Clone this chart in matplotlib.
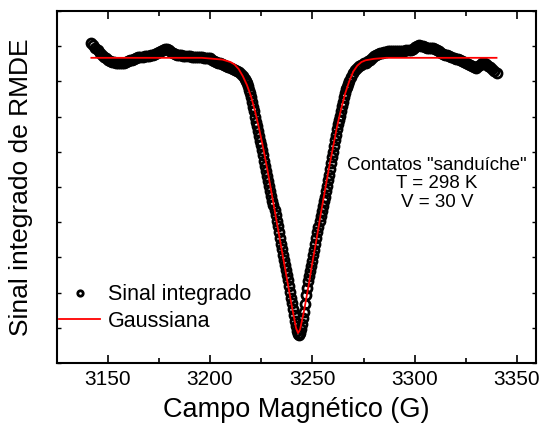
import matplotlib
matplotlib.use("Agg")
import matplotlib.pyplot as plt
from matplotlib.ticker import MultipleLocator, NullFormatter

plt.rcParams['font.family'] = ['Liberation Sans', 'DejaVu Sans']

# Integrated signal (open circles): left baseline, dip, right baseline
left_x = [3142, 3143, 3144, 3145, 3146, 3147, 3148, 3149, 3150, 3151,
          3152, 3153, 3154, 3155, 3156, 3157, 3158, 3159, 3160, 3161,
          3162, 3163, 3164, 3165, 3166, 3167, 3168, 3169, 3170, 3171,
          3172, 3173, 3174, 3175, 3176, 3177, 3178, 3179, 3180, 3181,
          3182, 3183, 3184, 3185, 3186, 3187, 3188, 3189, 3190, 3191,
          3192, 3193, 3194, 3195, 3196, 3197, 3198, 3199, 3200, 3201,
          3202, 3203, 3204, 3205, 3206, 3207, 3208, 3209, 3210, 3211,
          3212, 3213, 3214, 3215, 3216, 3217]
left_y = [0.908, 0.902, 0.896, 0.889, 0.882, 0.876, 0.870, 0.866, 0.862, 0.858,
          0.856, 0.854, 0.853, 0.852, 0.852, 0.852, 0.853, 0.855, 0.857, 0.860,
          0.862, 0.864, 0.866, 0.868, 0.869, 0.870, 0.871, 0.872, 0.873, 0.875,
          0.876, 0.878, 0.880, 0.883, 0.886, 0.890, 0.893, 0.893, 0.890, 0.884,
          0.880, 0.878, 0.876, 0.875, 0.874, 0.873, 0.872, 0.871, 0.871, 0.870,
          0.870, 0.869, 0.869, 0.868, 0.868, 0.867, 0.866, 0.866, 0.866, 0.862,
          0.858, 0.855, 0.853, 0.851, 0.849, 0.847, 0.844, 0.841, 0.838, 0.835,
          0.832, 0.829, 0.826, 0.822, 0.816, 0.808]

dip_x = [3217.5, 3218, 3218.5, 3219, 3219.5, 3220, 3220.5, 3221, 3221.5, 3222,
         3222.5, 3223, 3223.5, 3224, 3224.5, 3225, 3225.5, 3226, 3226.5, 3227,
         3227.5, 3228, 3228.5, 3229, 3229.5, 3230, 3230.5, 3231, 3231.5, 3232,
         3232.5, 3233, 3233.5, 3234, 3234.5, 3235, 3235.5, 3236, 3236.5, 3237,
         3237.5, 3238, 3238.5, 3239, 3239.5, 3240, 3240.5, 3241, 3241.5, 3242,
         3242.5, 3243, 3243.5, 3244, 3244.5, 3245, 3245.5, 3246, 3246.5, 3247,
         3247.5, 3248, 3248.5, 3249, 3249.5, 3250, 3250.5, 3251, 3251.5, 3252,
         3252.5, 3253, 3253.5, 3254, 3254.5, 3255, 3255.5, 3256, 3256.5, 3257,
         3257.5, 3258, 3258.5, 3259, 3259.5, 3260, 3260.5, 3261, 3261.5, 3262,
         3262.5, 3263, 3263.5, 3264, 3264.5, 3265, 3265.5, 3266, 3266.5, 3267,
         3267.5, 3268]
dip_y = [0.802, 0.795, 0.786, 0.776, 0.766, 0.755, 0.742, 0.728, 0.715, 0.700,
         0.686, 0.672, 0.659, 0.645, 0.631, 0.618, 0.604, 0.590, 0.575, 0.560,
         0.545, 0.530, 0.516, 0.502, 0.489, 0.475, 0.461, 0.448, 0.434, 0.420,
         0.404, 0.388, 0.371, 0.355, 0.339, 0.323, 0.308, 0.292, 0.278, 0.264,
         0.250, 0.235, 0.219, 0.203, 0.186, 0.170, 0.152, 0.135, 0.120, 0.105,
         0.092, 0.082, 0.080, 0.085, 0.096, 0.110, 0.127, 0.145, 0.168, 0.192,
         0.214, 0.232, 0.247, 0.261, 0.276, 0.290, 0.306, 0.322, 0.339, 0.355,
         0.371, 0.387, 0.402, 0.418, 0.432, 0.445, 0.459, 0.472, 0.488, 0.504,
         0.519, 0.535, 0.551, 0.567, 0.584, 0.600, 0.617, 0.633, 0.649, 0.665,
         0.678, 0.690, 0.703, 0.715, 0.729, 0.742, 0.755, 0.768, 0.777, 0.785,
         0.793, 0.800]

right_x = [3269, 3270, 3271, 3272, 3273, 3274, 3275, 3276, 3277, 3278,
           3279, 3280, 3281, 3282, 3283, 3284, 3285, 3286, 3287, 3288,
           3289, 3290, 3291, 3292, 3293, 3294, 3295, 3296, 3297, 3298,
           3299, 3300, 3301, 3302, 3303, 3304, 3305, 3306, 3307, 3308,
           3309, 3310, 3311, 3312, 3313, 3314, 3315, 3316, 3317, 3318,
           3319, 3320, 3321, 3322, 3323, 3324, 3325, 3326, 3327, 3328,
           3329, 3330, 3331, 3332, 3333, 3334, 3335, 3336, 3337, 3338,
           3339, 3340]
right_y = [0.813, 0.825, 0.832, 0.838, 0.843, 0.848, 0.851, 0.853, 0.857, 0.862,
           0.867, 0.872, 0.875, 0.878, 0.880, 0.882, 0.883, 0.884, 0.885, 0.885,
           0.885, 0.885, 0.885, 0.885, 0.885, 0.886, 0.887, 0.888, 0.889, 0.890,
           0.893, 0.897, 0.900, 0.902, 0.901, 0.900, 0.897, 0.895, 0.895, 0.895,
           0.894, 0.893, 0.889, 0.885, 0.881, 0.878, 0.876, 0.874, 0.872, 0.870,
           0.867, 0.865, 0.863, 0.861, 0.858, 0.856, 0.853, 0.850, 0.846, 0.843,
           0.840, 0.838, 0.843, 0.848, 0.851, 0.852, 0.849, 0.845, 0.840, 0.835,
           0.829, 0.824]

# Gaussian fit (red line)
fit_x = [3142, 3196, 3200, 3206, 3210, 3212, 3214, 3216, 3218, 3220,
         3222, 3224, 3226, 3228, 3230, 3232, 3234, 3236, 3238, 3240,
         3242, 3243, 3244, 3246, 3248, 3250, 3252, 3254, 3256, 3258,
         3260, 3262, 3264, 3266, 3268, 3270, 3272, 3274, 3276, 3280,
         3286, 3340]
fit_y = [0.867, 0.867, 0.865, 0.862, 0.855, 0.848, 0.835, 0.815, 0.790, 0.758,
         0.715, 0.665, 0.610, 0.550, 0.485, 0.420, 0.355, 0.290, 0.225, 0.160,
         0.100, 0.085, 0.095, 0.150, 0.215, 0.285, 0.350, 0.420, 0.485, 0.550,
         0.610, 0.670, 0.720, 0.765, 0.800, 0.828, 0.845, 0.855, 0.860, 0.864,
         0.867, 0.867]

signal_x = left_x + dip_x + right_x
signal_y = left_y + dip_y + right_y

fig = plt.figure(figsize=(5.41, 4.32), dpi=100)
ax = fig.add_axes([57/541, 1 - 363/432, (536-57)/541, (363-11)/432])

ax.plot(signal_x, signal_y, 'o', mfc='none', mec='black', ms=6.5, mew=2.0,
        label='Sinal integrado', zorder=2)
ax.plot(fit_x, fit_y, '-', color='#ff0000', lw=1.3, label='Gaussiana', zorder=3)

ax.set_xlim(3125.2, 3359.3)
ax.set_ylim(0, 1)
ax.xaxis.set_major_locator(MultipleLocator(50))
ax.xaxis.set_minor_locator(MultipleLocator(25))
ax.yaxis.set_major_locator(MultipleLocator(0.1))
ax.yaxis.set_major_formatter(NullFormatter())
ax.tick_params(axis='x', which='major', direction='in', length=6, width=1.2,
               top=True, labelsize=15, pad=5)
ax.tick_params(axis='x', which='minor', direction='in', length=3.5, width=1.2, top=True)
ax.tick_params(axis='y', which='major', direction='in', length=3, width=1.0, right=True)
for s in ax.spines.values():
    s.set_linewidth(1.5)

ax.set_xlabel('Campo Magnético (G)', fontsize=19.5, labelpad=6)
ax.set_ylabel('Sinal integrado de RMDE', fontsize=19, labelpad=14)

leg = ax.legend(loc='upper left', bbox_to_anchor=(0.0, (363-282)/352), frameon=False,
                fontsize=15.5, handlelength=1.9, handletextpad=0.35,
                labelspacing=0.25, borderaxespad=0, borderpad=0.1, markerscale=0.6)

ax.text(0.793, 0.585, 'Contatos "sanduíche"\nT = 298 K\nV = 30 V', transform=ax.transAxes,
        ha='center', va='top', fontsize=13.5, linespacing=1.1)

fig.savefig('out.png', dpi=100)
